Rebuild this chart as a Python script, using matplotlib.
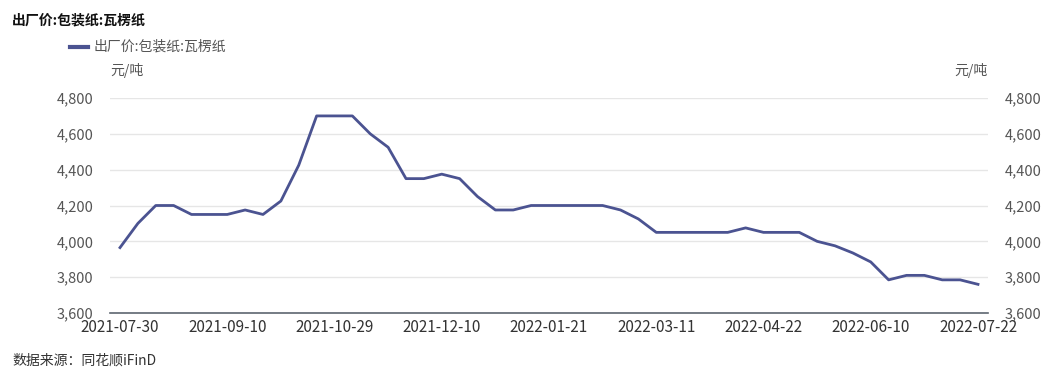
import matplotlib.pyplot as plt
from matplotlib.ticker import FuncFormatter

plt.rcParams['font.family'] = ['Noto Sans CJK SC', 'DejaVu Sans']

# weekly dates (holiday weeks missing), category axis
dates = ['2021-07-30', '2021-08-06', '2021-08-13', '2021-08-20', '2021-08-27', '2021-09-03',
         '2021-09-10', '2021-09-17', '2021-09-24', '2021-10-08', '2021-10-15', '2021-10-22',
         '2021-10-29', '2021-11-05', '2021-11-12', '2021-11-19', '2021-11-26', '2021-12-03',
         '2021-12-10', '2021-12-17', '2021-12-24', '2021-12-31', '2022-01-07', '2022-01-14',
         '2022-01-21', '2022-01-28', '2022-02-11', '2022-02-18', '2022-02-25', '2022-03-04',
         '2022-03-11', '2022-03-18', '2022-03-25', '2022-04-01', '2022-04-08', '2022-04-15',
         '2022-04-22', '2022-04-29', '2022-05-13', '2022-05-20', '2022-05-27', '2022-06-03',
         '2022-06-10', '2022-06-17', '2022-06-24', '2022-07-01', '2022-07-08', '2022-07-15',
         '2022-07-22']
price = [3965, 4100, 4200, 4200, 4150, 4150, 4150, 4175, 4150, 4225,
         4425, 4700, 4700, 4700, 4600, 4525, 4350, 4350, 4375, 4350,
         4250, 4175, 4175, 4200, 4200, 4200, 4200, 4200, 4175, 4125,
         4050, 4050, 4050, 4050, 4050, 4075, 4050, 4050, 4050, 4000,
         3975, 3935, 3885, 3785, 3810, 3810, 3785, 3785, 3760]
yticks = [3600, 3800, 4000, 4200, 4400, 4600, 4800]
series_name = '出厂价:包装纸:瓦楞纸'
unit = '元/吨'
source = '数据来源：同花顺iFinD'

line_color = '#4b5391'
text_color = '#555555'

fig = plt.figure(figsize=(10.53, 3.79), dpi=100)
ax = fig.add_axes([110 / 1053, 1 - 313 / 379, 878 / 1053, 215 / 379])

x = list(range(len(dates)))
ax.plot(x, price, color=line_color, linewidth=2, solid_joinstyle='round')

ax.set_xlim(-10 / 17.875, len(dates) - 1 + 10 / 17.875)
ax.set_ylim(yticks[0], yticks[-1])
ax.set_yticks(yticks)
ax.yaxis.set_major_formatter(FuncFormatter(lambda v, p: f'{int(v):,}'))
ax.set_xticks(x[::6])
ax.set_xticklabels(dates[::6])

ax.grid(axis='y', color='#e6e6e6', linewidth=1)
ax.set_axisbelow(True)
for s in ['top', 'left', 'right']:
    ax.spines[s].set_visible(False)
ax.spines['bottom'].set_color('#5d6670')
ax.spines['bottom'].set_linewidth(1.2)

ax.tick_params(axis='x', length=0, pad=4, labelsize=11, labelcolor='#333333')
ax.tick_params(axis='y', length=0, pad=12, labelsize=10.5, labelcolor=text_color,
               labelright=True, right=False)

fig.text(12 / 1053, 1 - 20 / 379, series_name, fontsize=10, fontweight='bold',
         color='#111111', va='center', ha='left')
fig.text(110 / 1053, 1 - 70 / 379, unit, fontsize=10, color=text_color, va='center', ha='left')
fig.text(988 / 1053, 1 - 70 / 379, unit, fontsize=10, color=text_color, va='center', ha='right')
fig.text(12 / 1053, 1 - 361 / 379, source, fontsize=10, color='#333333', va='center', ha='left')

# legend
fig.lines.append(plt.Line2D([70 / 1053, 88 / 1053], [1 - 47 / 379, 1 - 47 / 379],
                            color=line_color, linewidth=3, transform=fig.transFigure))
fig.text(94 / 1053, 1 - 47 / 379, series_name, fontsize=10, color=text_color,
         va='center', ha='left')

fig.savefig('out.png', dpi=100)
